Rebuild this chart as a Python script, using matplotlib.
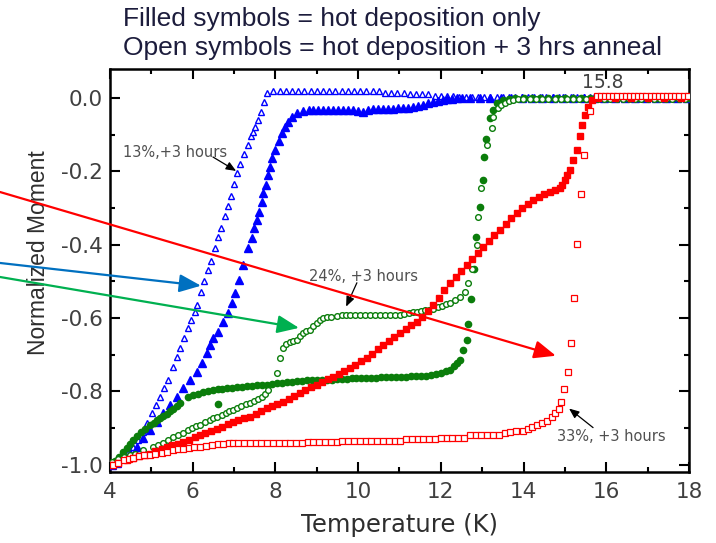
import matplotlib
matplotlib.use("Agg")
import matplotlib.pyplot as plt
from matplotlib.ticker import MultipleLocator

# ---------------- data: normalized moment vs temperature ----------------
# 13 % sample, hot deposition + 3 h anneal (open triangles)
blue_open_T = [4.07, 4.19, 4.31, 4.44, 4.56, 4.68, 4.80, 4.89, 5.02, 5.11, 5.21, 5.31,
               5.40, 5.52, 5.62, 5.69, 5.79, 5.89, 5.97, 6.05, 6.10, 6.20, 6.28, 6.37,
               6.45, 6.54, 6.61, 6.68, 6.78, 6.85, 6.92, 7.00, 7.07, 7.15, 7.24, 7.34,
               7.41, 7.46, 7.51, 7.58, 7.65, 7.72, 7.80,
               7.95, 8.10, 8.25, 8.40, 8.55, 8.70, 8.85, 9.00, 9.15, 9.30, 9.45, 9.60,
               9.75, 9.90, 10.05, 10.20, 10.35, 10.50, 10.65, 10.80, 10.95, 11.10, 11.25,
               11.40, 11.55, 11.70, 11.85, 12.00, 12.15, 12.30, 12.45, 12.60, 12.75,
               12.90, 13.05, 13.20, 13.35, 13.50, 13.65, 13.80, 13.95, 14.10, 14.25,
               14.40, 14.55, 14.70, 14.85, 15.00, 15.15, 15.30, 15.45, 15.60, 15.75,
               15.90, 16.05, 16.20, 16.35, 16.50, 16.65, 16.80, 16.95, 17.10, 17.25,
               17.40, 17.55, 17.70, 17.85, 18.00]
blue_open_M = [-0.992, -0.981, -0.973, -0.965, -0.951, -0.932, -0.910, -0.886, -0.858,
               -0.837, -0.815, -0.790, -0.768, -0.733, -0.706, -0.681, -0.654, -0.627,
               -0.605, -0.585, -0.565, -0.530, -0.500, -0.470, -0.445, -0.410, -0.380,
               -0.355, -0.322, -0.295, -0.268, -0.235, -0.204, -0.180, -0.153, -0.128,
               -0.104, -0.093, -0.079, -0.060, -0.038, -0.010, 0.014,
               0.020, 0.020, 0.020, 0.020, 0.020, 0.020, 0.020, 0.020, 0.020, 0.020,
               0.020, 0.018, 0.018, 0.018, 0.018, 0.018, 0.018, 0.018, 0.014, 0.014,
               0.014, 0.014, 0.010, 0.010, 0.010, 0.010, 0.006, 0.006, 0.006, 0.006,
               0.003, 0.003, 0.003, 0.003, 0.003, 0.003, 0.003, 0.003, 0.003, 0.003,
               0.003, 0.003, 0.003, 0.003, 0.003, 0.003, 0.003, 0.003, 0.003, 0.003,
               0.003, 0.003, 0.003, 0.003, 0.003, 0.003, 0.003, 0.003, 0.003, 0.003,
               0.003, 0.003, 0.003, 0.003, 0.003, 0.003, 0.003, 0.003]

# 13 % sample, hot deposition only (filled triangles)
blue_fill_T = [4.05, 4.17, 4.31, 4.48, 4.65, 4.80, 4.97, 5.14, 5.28, 5.45, 5.62, 5.77,
               5.93, 6.10, 6.22, 6.35, 6.42, 6.50, 6.61, 6.73, 6.85, 6.95, 7.02, 7.12,
               7.22, 7.34, 7.43, 7.48, 7.55, 7.60, 7.67, 7.70, 7.77, 7.82, 7.87, 7.92,
               7.99, 8.08, 8.16, 8.23, 8.30, 8.40, 8.52, 8.67,
               8.80, 8.92, 9.04, 9.16, 9.28, 9.40, 9.52, 9.64, 9.76, 9.88, 10.00, 10.12,
               10.24, 10.36, 10.48, 10.60, 10.72, 10.84, 10.96, 11.08, 11.20, 11.32,
               11.44, 11.56, 11.68, 11.80, 11.92, 12.04, 12.16, 12.28, 12.40, 12.52,
               12.70, 12.95, 13.20, 13.45, 13.70, 13.95, 14.20, 14.45, 14.70, 14.95,
               15.20, 15.45, 15.70, 15.95, 16.20, 16.45, 16.70, 16.95, 17.20, 17.45,
               17.70, 17.95]
blue_fill_M = [-1.000, -0.995, -0.981, -0.967, -0.951, -0.926, -0.905, -0.883, -0.858,
               -0.837, -0.815, -0.790, -0.768, -0.747, -0.722, -0.695, -0.673, -0.655,
               -0.638, -0.610, -0.586, -0.559, -0.531, -0.496, -0.455, -0.409, -0.381,
               -0.354, -0.332, -0.311, -0.283, -0.259, -0.237, -0.210, -0.188, -0.163,
               -0.142, -0.118, -0.095, -0.079, -0.065, -0.052, -0.041, -0.035,
               -0.033, -0.033, -0.033, -0.033, -0.033, -0.033, -0.033, -0.033, -0.033,
               -0.033, -0.036, -0.038, -0.034, -0.030, -0.030, -0.030, -0.030, -0.030,
               -0.028, -0.027, -0.026, -0.024, -0.021, -0.018, -0.015, -0.012, -0.009,
               -0.006, -0.004, -0.002, -0.001, 0.000,
               0.000, 0.000, 0.000, 0.000, 0.000, 0.000, 0.000, 0.000, 0.000, 0.000,
               0.000, 0.000, 0.000, 0.000, 0.000, 0.000, 0.000, 0.000, 0.000, 0.000,
               0.000, 0.000]

# 24 % sample, hot deposition only (filled circles)
green_fill_T = [4.05, 4.12, 4.22, 4.31, 4.40, 4.48, 4.56, 4.65, 4.75, 4.85, 4.97, 5.06,
                5.14, 5.21, 5.28, 5.38, 5.45, 5.53, 5.62, 5.69, 6.61,
                5.89, 6.00, 6.12, 6.24, 6.36, 6.48, 6.60, 6.72, 6.84, 6.96, 7.08, 7.20,
                7.32, 7.44, 7.56, 7.68, 7.80, 7.92, 8.04, 8.16, 8.28, 8.40, 8.52, 8.64,
                8.76, 8.88, 9.00, 9.12, 9.24, 9.36, 9.48, 9.60, 9.72, 9.84, 9.96, 10.08,
                10.20, 10.32, 10.44, 10.56, 10.68, 10.80, 10.92, 11.04, 11.16, 11.28,
                11.40, 11.52, 11.64, 11.76, 11.88, 12.00, 12.12, 12.22, 12.32, 12.40,
                12.46, 12.53, 12.63, 12.66, 12.73, 12.80, 12.85, 12.95, 13.02, 13.04,
                13.09, 13.19, 13.26, 13.36, 13.50, 13.65,
                13.80, 14.00, 14.20, 14.40, 14.60, 14.80, 15.00, 15.20, 15.40, 15.60,
                15.80, 16.00, 16.20, 16.40, 16.60, 16.80, 17.00, 17.20, 17.40, 17.60,
                17.80, 18.00]
green_fill_M = [-0.995, -0.990, -0.978, -0.966, -0.955, -0.945, -0.932, -0.921, -0.911,
                -0.902, -0.893, -0.886, -0.879, -0.872, -0.866, -0.862, -0.855, -0.848,
                -0.841, -0.833, -0.834,
                -0.815, -0.811, -0.807, -0.803, -0.800, -0.797, -0.795, -0.793, -0.791,
                -0.790, -0.789, -0.787, -0.786, -0.785, -0.784, -0.783, -0.782, -0.780,
                -0.778, -0.776, -0.775, -0.774, -0.772, -0.771, -0.770, -0.769, -0.769,
                -0.768, -0.768, -0.768, -0.767, -0.766, -0.766, -0.765, -0.765, -0.764,
                -0.763, -0.763, -0.763, -0.762, -0.762, -0.761, -0.761, -0.760, -0.760,
                -0.759, -0.759, -0.758, -0.757, -0.756, -0.753, -0.750, -0.745, -0.741,
                -0.732, -0.722, -0.714, -0.687, -0.659, -0.616, -0.548, -0.466, -0.379,
                -0.297, -0.223, -0.161, -0.112, -0.054, -0.033, -0.014, -0.005, -0.002,
                0.000, 0.000, 0.000, 0.000, 0.000, 0.000, 0.000, 0.000, 0.000, 0.000,
                0.000, 0.000, 0.000, 0.000, 0.000, 0.000, 0.000, 0.000, 0.000, 0.000,
                0.000, 0.000]

# 24 % sample, hot deposition + 3 h anneal (open circles)
green_open_T = [4.05, 4.20, 4.35, 4.48, 4.60, 4.80, 5.04, 5.16, 5.28, 5.40, 5.52, 5.64,
                5.77, 5.88, 5.98, 6.08, 6.18, 6.30, 6.42, 6.50, 6.59, 6.70, 6.80, 6.88,
                6.97, 7.08, 7.18, 7.28, 7.38, 7.48, 7.58, 7.67, 7.75, 7.82, 8.04, 8.11,
                8.18, 8.26, 8.35, 8.43, 8.52, 8.60, 8.67, 8.75, 8.84, 8.92, 9.00, 9.08,
                9.15, 9.25, 9.35, 9.49, 9.60, 9.70, 9.80, 9.92, 10.04, 10.16, 10.28,
                10.40, 10.52, 10.64, 10.76, 10.88, 11.01, 11.12, 11.22, 11.32, 11.42,
                11.52, 11.62, 11.72, 11.81, 11.92, 12.02, 12.12, 12.22, 12.34, 12.46,
                12.58, 12.66, 12.75, 12.87, 12.90, 12.97, 13.12, 13.24, 13.26, 13.38,
                13.46, 13.55, 13.65, 13.74, 13.86, 13.99,
                14.15, 14.30, 14.45, 14.60, 14.75, 14.90, 15.05, 15.20, 15.35, 15.50,
                15.65, 15.80, 15.95, 16.10, 16.25, 16.40, 16.55, 16.70, 16.85, 17.00,
                17.15, 17.30, 17.45, 17.60, 17.75, 17.90]
green_open_M = [-0.992, -0.985, -0.979, -0.974, -0.970, -0.959, -0.951, -0.946, -0.940,
                -0.932, -0.924, -0.918, -0.913, -0.906, -0.899, -0.895, -0.891, -0.884,
                -0.877, -0.873, -0.869, -0.864, -0.858, -0.854, -0.850, -0.845, -0.840,
                -0.835, -0.831, -0.826, -0.820, -0.815, -0.806, -0.796, -0.749, -0.708,
                -0.681, -0.672, -0.665, -0.662, -0.659, -0.650, -0.640, -0.636, -0.632,
                -0.622, -0.613, -0.606, -0.599, -0.597, -0.596, -0.594, -0.593, -0.592,
                -0.591, -0.591, -0.591, -0.591, -0.591, -0.591, -0.591, -0.591, -0.591,
                -0.591, -0.591, -0.589, -0.587, -0.585, -0.583, -0.581, -0.579, -0.577,
                -0.575, -0.571, -0.567, -0.563, -0.559, -0.551, -0.542, -0.529, -0.504,
                -0.466, -0.401, -0.324, -0.245, -0.128, -0.082, -0.052, -0.027, -0.020,
                -0.014, -0.009, -0.005, -0.004, -0.003,
                -0.003, -0.003, -0.003, -0.003, -0.003, -0.003, -0.003, -0.003, -0.003,
                -0.003, -0.003, -0.003, -0.003, -0.003, -0.003, -0.003, -0.003, -0.003,
                -0.003, -0.003, -0.003, -0.003, -0.003, -0.003, -0.003, -0.003]

# 33 % sample, hot deposition only (filled squares)
red_fill_T = [4.05, 4.20, 4.40, 4.56, 4.70, 4.85, 4.97, 5.10, 5.25, 5.38, 5.50, 5.65,
              5.77, 5.90, 6.05, 6.18, 6.30, 6.45, 6.59, 6.72, 6.85, 6.97, 7.10, 7.25,
              7.38, 7.52, 7.66, 7.80, 7.92, 8.05, 8.18, 8.32, 8.45, 8.59, 8.72, 8.86,
              9.00, 9.13, 9.26, 9.39, 9.53, 9.66, 9.80, 9.93, 10.07, 10.21, 10.34,
              10.47, 10.60, 10.74, 10.87, 11.01, 11.15, 11.28, 11.42, 11.55, 11.68,
              11.81, 11.95, 12.08, 12.22, 12.36, 12.49, 12.63, 12.76, 12.89, 13.02,
              13.16, 13.29, 13.43, 13.57, 13.70, 13.84, 13.97, 14.10, 14.23, 14.37,
              14.50, 14.64, 14.76, 14.88, 14.94, 15.00, 15.06, 15.12, 15.19, 15.29,
              15.36, 15.41, 15.48, 15.56, 15.65,
              15.80, 16.20, 16.60, 17.00, 17.40, 17.80]
red_fill_M = [-1.000, -0.995, -0.986, -0.981, -0.977, -0.973, -0.970, -0.964, -0.957,
              -0.951, -0.947, -0.943, -0.938, -0.932, -0.925, -0.918, -0.914, -0.909,
              -0.904, -0.897, -0.889, -0.883, -0.879, -0.874, -0.869, -0.862, -0.853,
              -0.845, -0.839, -0.834, -0.828, -0.821, -0.812, -0.804, -0.797, -0.789,
              -0.782, -0.775, -0.767, -0.760, -0.752, -0.744, -0.736, -0.727, -0.718,
              -0.708, -0.697, -0.685, -0.673, -0.662, -0.651, -0.640, -0.630, -0.620,
              -0.610, -0.596, -0.580, -0.564, -0.545, -0.524, -0.504, -0.487, -0.471,
              -0.455, -0.439, -0.422, -0.406, -0.390, -0.375, -0.360, -0.344, -0.328,
              -0.313, -0.300, -0.289, -0.278, -0.269, -0.262, -0.256, -0.251, -0.245,
              -0.236, -0.223, -0.210, -0.196, -0.169, -0.142, -0.104, -0.074, -0.046,
              -0.025, -0.005,
              0.000, 0.000, 0.000, 0.000, 0.000, 0.000]

# 33 % sample, hot deposition + 3 h anneal (open squares)
red_open_T = [4.07, 4.20, 4.35, 4.45, 4.56, 4.70, 4.83, 4.97, 5.10, 5.25, 5.38, 5.52,
              5.65, 5.77, 5.90, 6.04, 6.18, 6.32, 6.46, 6.60, 6.74, 6.87, 6.97,
              7.10, 7.24, 7.38, 7.52, 7.66, 7.80, 7.94, 8.08, 8.22, 8.36, 8.50, 8.64,
              8.78, 8.92, 9.06, 9.20, 9.34, 9.48, 9.62, 9.76, 9.90, 10.04, 10.18,
              10.32, 10.46, 10.60, 10.74, 10.88, 11.02, 11.16, 11.30, 11.44, 11.58,
              11.72, 11.86, 12.00, 12.14, 12.28, 12.42, 12.56, 12.70, 12.84, 12.98,
              13.12, 13.26, 13.40, 13.54, 13.68, 13.82,
              13.99, 14.10, 14.20, 14.32, 14.45, 14.57, 14.69, 14.76, 14.86, 14.90,
              14.98, 15.07, 15.15, 15.22, 15.29, 15.39, 15.46, 15.61, 15.77,
              15.87, 15.97, 16.07, 16.17, 16.27, 16.37, 16.47, 16.57, 16.67, 16.77,
              16.87, 16.97, 17.07, 17.17, 17.27, 17.37, 17.47, 17.57, 17.67, 17.77,
              17.87, 17.97]
red_open_M = [-1.000, -0.995, -0.988, -0.985, -0.981, -0.977, -0.975, -0.973, -0.970,
              -0.967, -0.965, -0.961, -0.958, -0.956, -0.954, -0.952, -0.951, -0.949,
              -0.947, -0.945, -0.943, -0.941, -0.940,
              -0.940, -0.940, -0.940, -0.940, -0.940, -0.940, -0.940, -0.940, -0.940,
              -0.940, -0.940, -0.940, -0.938, -0.938, -0.938, -0.938, -0.938, -0.938,
              -0.935, -0.935, -0.935, -0.935, -0.935, -0.935, -0.935, -0.935, -0.935,
              -0.935, -0.935, -0.931, -0.931, -0.931, -0.931, -0.931, -0.931, -0.927,
              -0.927, -0.927, -0.927, -0.927, -0.920, -0.920, -0.920, -0.920, -0.920,
              -0.920, -0.915, -0.912, -0.909,
              -0.907, -0.902, -0.897, -0.891, -0.886, -0.880, -0.869, -0.858, -0.847,
              -0.828, -0.793, -0.747, -0.668, -0.545, -0.398, -0.262, -0.155, -0.035,
              0.005,
              0.005, 0.005, 0.005, 0.005, 0.005, 0.005, 0.005, 0.005, 0.005, 0.005,
              0.005, 0.005, 0.005, 0.005, 0.005, 0.005, 0.005, 0.005, 0.005, 0.005,
              0.005, 0.005]

x_ticks = [4, 6, 8, 10, 12, 14, 16, 18]
y_ticks = [-1.0, -0.8, -0.6, -0.4, -0.2, 0.0]
y_tick_labels = ["-1.0", "-0.8", "-0.6", "-0.4", "-0.2", "0.0"]

BLUE = "#0000FF"
GREEN = "#0B7D0B"
RED = "#FF0000"

fig = plt.figure(figsize=(7.16, 5.43), dpi=100)
ax = fig.add_axes([0.1536, 0.1308, 0.8087, 0.7421])

ax.plot(blue_open_T, blue_open_M, ls="none", marker="^", ms=5.0, mfc="white",
        mec=BLUE, mew=1.0, zorder=3)
ax.plot(blue_fill_T, blue_fill_M, ls="none", marker="^", ms=5.3, color=BLUE,
        mec=BLUE, zorder=3)
ax.plot(green_fill_T, green_fill_M, ls="none", marker="o", ms=4.5, color=GREEN,
        mec=GREEN, zorder=4)
ax.plot(green_open_T, green_open_M, ls="none", marker="o", ms=4.1, mfc="white",
        mec=GREEN, mew=1.0, zorder=4)
ax.plot(red_fill_T, red_fill_M, ls="none", marker="s", ms=4.2, color=RED,
        mec=RED, zorder=5)
ax.plot(red_open_T, red_open_M, ls="none", marker="s", ms=4.1, mfc="white",
        mec=RED, mew=0.9, zorder=5)

ax.set_xlim(4, 18)
ax.set_ylim(-1.02, 0.079)
ax.set_xticks(x_ticks)
ax.set_xticklabels([str(t) for t in x_ticks])
ax.set_yticks(y_ticks)
ax.set_yticklabels(y_tick_labels)
ax.xaxis.set_minor_locator(MultipleLocator(1))
ax.yaxis.set_minor_locator(MultipleLocator(0.1))
ax.tick_params(which="both", direction="in", top=True, right=True, width=1.5,
               colors="black", labelcolor="#404040", labelsize=15.5)
ax.tick_params(which="major", length=7.5)
ax.tick_params(which="minor", length=3.8)
ax.tick_params(axis="x", pad=7)
ax.tick_params(axis="y", pad=5)
for lab in ax.get_xticklabels() + ax.get_yticklabels():
    lab.set_family("DejaVu Sans")
for sp in ax.spines.values():
    sp.set_linewidth(1.8)

ax.set_xlabel("Temperature (K)", fontsize=17.5, family="DejaVu Sans",
              color="#2E2E2E", labelpad=8)
ax.set_ylabel("Normalized Moment", fontsize=16.5, family="Liberation Sans",
              color="#2E2E2E")
ax.yaxis.set_label_coords(-0.103, 0.545)

# sample annotations
note = dict(fontsize=10.5, family="DejaVu Sans", color="#505050")
small_arrow = dict(arrowstyle="-|>,head_length=0.6,head_width=0.25",
                   color="black", lw=0.9, shrinkA=0, shrinkB=0)
ax.text(5.57, -0.150, "13%,+3 hours", ha="center", va="center", **note)
ax.annotate("", xy=(7.05, -0.199), xytext=(6.49, -0.161), arrowprops=small_arrow)
ax.text(10.14, -0.488, "24%, +3 hours", ha="center", va="center", **note)
ax.annotate("", xy=(9.71, -0.569), xytext=(9.97, -0.504), arrowprops=small_arrow)
ax.text(16.11, -0.924, "33%, +3 hours", ha="center", va="center", **note)
ax.annotate("", xy=(15.10, -0.847), xytext=(15.68, -0.899), arrowprops=small_arrow)
ax.text(15.92, 0.041, "15.8", ha="center", va="center", fontsize=13.5,
        family="DejaVu Sans", color="#404040")

# pointer arrows coming in from the left margin
def pointer(tip, start_y, color):
    ax.annotate("", xy=tip, xycoords="data", xytext=(0.0, start_y),
                textcoords="figure fraction", annotation_clip=False,
                arrowprops=dict(arrowstyle="-|>,head_length=1.2,head_width=0.5",
                                mutation_scale=11, color=color, lw=1.6,
                                shrinkA=0, shrinkB=0), zorder=10)

pointer((14.78, -0.703), 0.6464, "#FF0000")
pointer((6.20, -0.512), 0.5157, "#0070C0")
pointer((8.57, -0.627), 0.4899, "#00B050")

# header lines
head = dict(fontsize=19, family="Liberation Sans", color="#1C1C3C",
            ha="left", va="center")
fig.text(123 / 716, 1 - 19 / 543, "Filled symbols = hot deposition only", **head)
fig.text(123 / 716, 1 - 48 / 543, "Open symbols = hot deposition + 3 hrs anneal", **head)

fig.savefig("out.png", dpi=100)
